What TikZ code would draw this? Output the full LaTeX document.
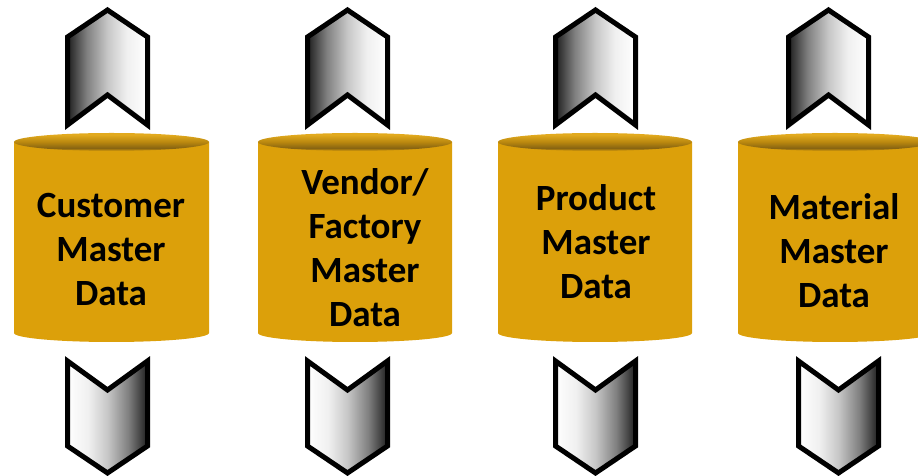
\documentclass[tikz,border=0pt]{standalone}
\usepackage{fontspec}
\setmainfont{Carlito}
\definecolor{gold}{RGB}{220,160,10}
\definecolor{topdark}{RGB}{135,100,18}
\definecolor{topmid}{RGB}{185,135,15}
\definecolor{toplight}{RGB}{226,170,30}
\pgfdeclarehorizontalshading{upgrad}{100bp}{color(0bp)=(black!88); color(25bp)=(black!88); color(37bp)=(black!50); color(50bp)=(black!22); color(62bp)=(black!6); color(75bp)=(white); color(100bp)=(white)}
\pgfdeclarehorizontalshading{downgrad}{100bp}{color(0bp)=(white); color(25bp)=(white); color(38bp)=(black!6); color(50bp)=(black!22); color(63bp)=(black!50); color(75bp)=(black!88); color(100bp)=(black!88)}
\pgfdeclareverticalshading{cyltop}{100bp}{color(0bp)=(gold); color(25bp)=(gold); color(33bp)=(topdark); color(50bp)=(topmid); color(70bp)=(toplight); color(100bp)=(toplight)}
\tikzset{
  chev/.style={line width=5pt, draw=black, line join=miter},
  upchev/.pic={\shadedraw[chev, shading=upgrad] (0,466) -- (40,439) -- (40,351) -- (0,381) -- (-40,351) -- (-40,439) -- cycle;},
  downchev/.pic={\shadedraw[chev, shading=downgrad] (-40,115) -- (0,86) -- (40,115) -- (40,30) -- (0,3) -- (-40,30) -- cycle;},
  label/.style={inner sep=0pt, align=center, font=\fontsize{37}{44}\selectfont\bfseries, text=black}
}
\newcommand{\cylinderdb}[2]{% #1 = centre x, #2 = half width
  \fill[gold] ({#1-#2},334) -- ({#1-#2},143) arc[start angle=180, end angle=360, x radius=#2, y radius=9] -- ({#1+#2},334) -- cycle;
  \shade[shading=cyltop] (#1,334) ellipse[x radius=#2, y radius=9];
}
\begin{document}
\begin{tikzpicture}[x=1pt,y=1pt]
\useasboundingbox (0,0) rectangle (918,476);
\clip (0,0) rectangle (918,476);
% arrows
\pic (u1) at (107.5,0) {upchev};
\pic (u2) at (347.5,0) {upchev};
\pic (u3) at (595.5,0) {upchev};
\pic (u4) at (828.5,0) {upchev};
\pic (d1) at (107.5,0) {downchev};
\pic (d2) at (347.5,0) {downchev};
\pic (d3) at (595.5,0) {downchev};
\pic (d4) at (838.5,0) {downchev};
% cylinders
\cylinderdb{111.5}{97.5}
\cylinderdb{355}{97}
\cylinderdb{595}{97}
\cylinderdb{835}{97}
% labels
\node[label] (t1) at (111,226) {Customer\\Master\\Data};
\node[label] (t2) at (365,228) {Vendor/\\Factory\\Master\\Data};
\node[label] (t3) at (596,234) {Product\\Master\\Data};
\node[label] (t4) at (834,225) {Material\\Master\\Data};
\end{tikzpicture}
\end{document}
